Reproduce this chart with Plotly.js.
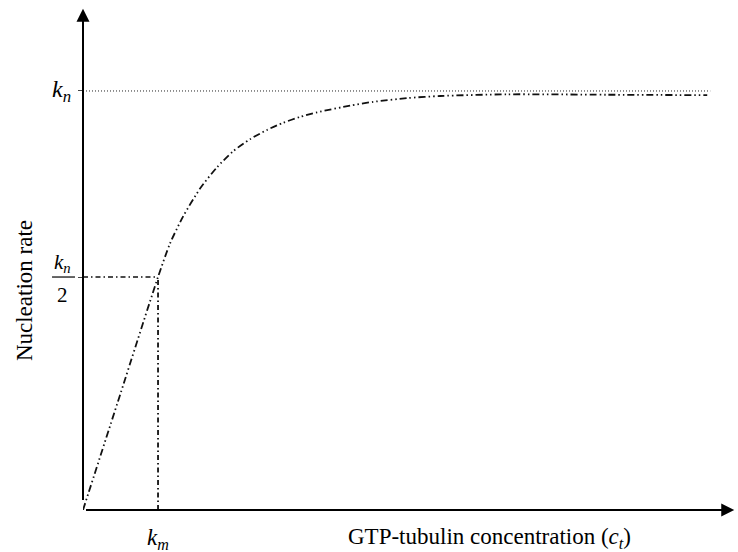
<!DOCTYPE html>
<html>
<head>
<meta charset="utf-8">
<script src="https://cdn.plot.ly/plotly-3.0.1.min.js"></script>
<style>html,body{margin:0;padding:0;background:#fff;}#chart{width:738px;height:552px;}</style>
</head>
<body>
<div id="chart"></div>
<script>
// Curve (x in units of k_m, y in units of k_n)
const curveX = [0, 0.5, 1.0, 1.16, 1.333, 1.56, 1.787, 2.0, 2.227, 2.453, 2.667, 2.893, 3.12, 3.56, 3.867, 4.32, 4.76, 5.653, 6.987, 8.32];
const curveY = [0, 0.278, 0.556, 0.636, 0.700, 0.767, 0.818, 0.856, 0.885, 0.907, 0.924, 0.938, 0.949, 0.965, 0.974, 0.983, 0.988, 0.992, 0.991, 0.990];
const kmX = 1.0;
const halfY = 0.556;
const knY = 1.0;
const knLineEnd = 8.36;
const xMax = 8.69;
const yMax = 1.198;

const FONT = "Liberation Serif, Times New Roman, serif";

const traces = [
  { x: curveX, y: curveY, mode: 'lines', line: {color: '#111', width: 1.8, dash: '7px,3px,1.5px,3px,1.5px,3px', shape: 'spline', smoothing: 0.7}, hoverinfo: 'skip' },
  { x: [0, knLineEnd], y: [knY, knY], mode: 'lines', line: {color: '#222', width: 1, dash: '1px,2px'}, hoverinfo: 'skip' },
  { x: [0, kmX], y: [halfY, halfY], mode: 'lines', line: {color: '#111', width: 1.5, dash: '5px,3px,1.5px,3px'}, hoverinfo: 'skip' },
  { x: [kmX, kmX], y: [0, halfY], mode: 'lines', line: {color: '#111', width: 1.8, dash: '5px,3px,1.5px,3px'}, hoverinfo: 'skip' }
];

const layout = {
  width: 738, height: 552,
  margin: {l: 83, r: 3, t: 8, b: 42},
  paper_bgcolor: '#fff', plot_bgcolor: '#fff',
  showlegend: false,
  xaxis: {range: [0, xMax], showgrid: false, zeroline: false, showline: false, showticklabels: false, ticks: ''},
  yaxis: {range: [0, yMax], showgrid: false, zeroline: false, showline: false, showticklabels: false,
          tickvals: [knY, halfY], ticks: 'outside', ticklen: 4, tickcolor: '#444', tickwidth: 1},
  annotations: [
    // axes with arrows
    {x: xMax - 0.01, y: 0, ax: 0, ay: 0, xref: 'x', yref: 'y', axref: 'x', ayref: 'y', text: ' ', showarrow: true,
     arrowhead: 2, arrowsize: 1.3, arrowwidth: 2, arrowcolor: '#000', standoff: 0},
    {x: 0, y: yMax - 0.002, ax: 0, ay: 0, xref: 'x', yref: 'y', axref: 'x', ayref: 'y', text: ' ', showarrow: true,
     arrowhead: 2, arrowsize: 1.3, arrowwidth: 2, arrowcolor: '#000', standoff: 0},
    // tick labels
    {x: -0.016, y: knY, xref: 'paper', yref: 'y', xanchor: 'right', yanchor: 'middle', showarrow: false,
     text: '<i>k</i><sub><i>n</i></sub>', font: {family: FONT, size: 24, color: '#000'}},
    {x: -0.0307, y: halfY + 0.033, xref: 'paper', yref: 'y', xanchor: 'center', yanchor: 'middle', showarrow: false,
     text: '<i>k</i><sub><i>n</i></sub>', font: {family: FONT, size: 21, color: '#000'}},
    {x: -0.0307, y: halfY - 0.043, xref: 'paper', yref: 'y', xanchor: 'center', yanchor: 'middle', showarrow: false,
     text: '2', font: {family: FONT, size: 21, color: '#000'}},
    {x: kmX, y: -0.058, xref: 'x', yref: 'paper', xanchor: 'center', yanchor: 'middle', showarrow: false,
     text: '<i>k</i><sub><i>m</i></sub>', font: {family: FONT, size: 23, color: '#000'}},
    // axis titles
    {x: 0.624, y: -0.056, xref: 'paper', yref: 'paper', xanchor: 'center', yanchor: 'middle', showarrow: false,
     text: 'GTP-tubulin concentration (<i>c</i><sub><i>t</i></sub>)', font: {family: FONT, size: 23, color: '#000'}},
    {x: -0.0905, y: 0.438, xref: 'paper', yref: 'paper', xanchor: 'center', yanchor: 'middle', showarrow: false, textangle: -90,
     text: 'Nucleation rate', font: {family: FONT, size: 23, color: '#000'}}
  ],
  shapes: [
    {type: 'line', xref: 'paper', yref: 'y', x0: -0.0475, x1: -0.0123, y0: halfY, y1: halfY, line: {color: '#000', width: 1.2}}
  ]
};

Plotly.newPlot('chart', traces, layout, {displayModeBar: false, staticPlot: true});
</script>
</body>
</html>
